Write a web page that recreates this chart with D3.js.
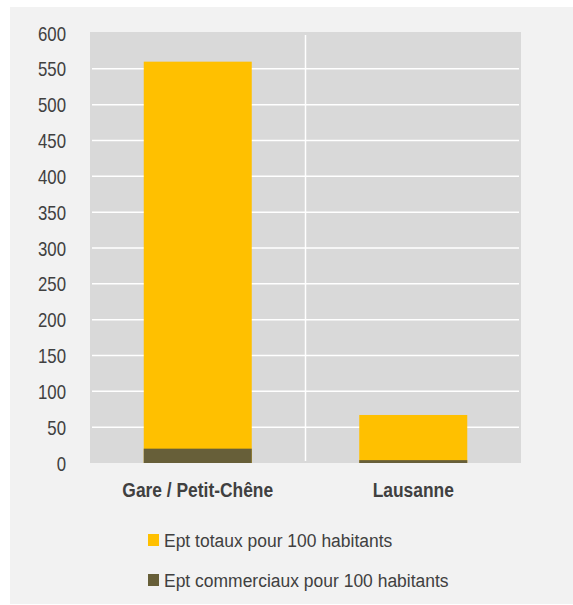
<!DOCTYPE html>
<html>
<head>
<meta charset="utf-8">
<script src="https://cdn.jsdelivr.net/npm/d3@7"></script>
<style>
  body { margin: 0; background: #fff; }
  text { font-family: "Liberation Sans", Arial, sans-serif; fill: #404040; }
</style>
</head>
<body>
<div id="chart"></div>
<script>
var categories = ["Gare / Petit-Chêne", "Lausanne"];
var totaux = [560, 67];
var commerciaux = [20, 4];
var seriesNames = ["Ept totaux pour 100 habitants", "Ept commerciaux pour 100 habitants"];
var yTicks = [0, 50, 100, 150, 200, 250, 300, 350, 400, 450, 500, 550, 600];

var svgWidth = 573;
var svgHeight = 605;

var plot = { left: 90, top: 32, right: 521, bottom: 463 };

var svg = d3.select("#chart")
  .append("svg")
  .attr("width", svgWidth)
  .attr("height", svgHeight);

// grey panel
svg.append("rect")
  .attr("x", 10)
  .attr("y", 7)
  .attr("width", 563)
  .attr("height", 597)
  .attr("fill", "#f2f2f2");

svg.append("rect")
  .attr("x", plot.left)
  .attr("y", plot.top)
  .attr("width", plot.right - plot.left)
  .attr("height", plot.bottom - plot.top)
  .attr("fill", "#d9d9d9");

var xScale = d3.scaleBand()
  .domain(categories)
  .range([plot.left, plot.right]);

var yScale = d3.scaleLinear()
  .domain([0, 600])
  .range([plot.bottom, plot.top + 1]);

// gridlines
svg.append("g")
  .selectAll("line")
  .data(yTicks.filter(d => d > 0 && d < 600))
  .enter()
  .append("line")
  .attr("x1", plot.left + 2)
  .attr("x2", plot.right - 2)
  .attr("y1", d => yScale(d))
  .attr("y2", d => yScale(d))
  .attr("stroke", "#fff")
  .attr("stroke-width", 1.5);

// vertical separator between categories
svg.append("line")
  .attr("x1", xScale(categories[1]))
  .attr("x2", xScale(categories[1]))
  .attr("y1", plot.top + 3)
  .attr("y2", plot.bottom - 2)
  .attr("stroke", "#fff")
  .attr("stroke-width", 1.5);

var barW = 108;

svg.append("g")
  .selectAll("rect")
  .data(categories)
  .enter()
  .append("rect")
  .attr("x", d => xScale(d) + xScale.bandwidth() / 2 - barW / 2)
  .attr("y", (d, i) => yScale(totaux[i]))
  .attr("width", barW)
  .attr("height", (d, i) => yScale(0) - yScale(totaux[i]))
  .attr("fill", "#ffc000");

svg.append("g")
  .selectAll("rect")
  .data(categories)
  .enter()
  .append("rect")
  .attr("x", d => xScale(d) + xScale.bandwidth() / 2 - barW / 2)
  .attr("y", (d, i) => yScale(commerciaux[i]))
  .attr("width", barW)
  .attr("height", (d, i) => yScale(0) - yScale(commerciaux[i]))
  .attr("fill", "#675f39");

// y axis labels (narrow look, squeezed horizontally)
var leftAxis = d3.axisLeft(yScale).tickValues(yTicks).tickSize(0).tickPadding(0);
var yAxis = svg.append("g")
  .attr("transform", "translate(66,0)")
  .call(leftAxis);
yAxis.select(".domain").remove();
yAxis.selectAll("text")
  .attr("font-size", 20)
  .attr("font-family", null)
  .attr("fill", "#404040")
  .attr("dy", "0.35em")
  .attr("transform", "scale(0.84,1)");

// category labels
svg.append("g")
  .selectAll("text")
  .data(categories)
  .enter()
  .append("text")
  .attr("transform", d => `translate(${xScale(d) + xScale.bandwidth() / 2}, 497) scale(0.87,1)`)
  .attr("text-anchor", "middle")
  .attr("font-size", 20)
  .attr("font-weight", "bold")
  .text(d => d);

// legend
var legendColors = ["#ffc000", "#675f39"];
var legend = svg.append("g")
  .selectAll("g")
  .data(seriesNames)
  .enter()
  .append("g")
  .attr("transform", (d, i) => `translate(148, ${534 + i * 40})`);

legend.append("rect")
  .attr("width", 11)
  .attr("height", 12)
  .attr("fill", (d, i) => legendColors[i]);

legend.append("text")
  .attr("transform", "translate(16,13) scale(0.92,1)")
  .attr("font-size", 19)
  .text(d => d);
</script>
</body>
</html>
